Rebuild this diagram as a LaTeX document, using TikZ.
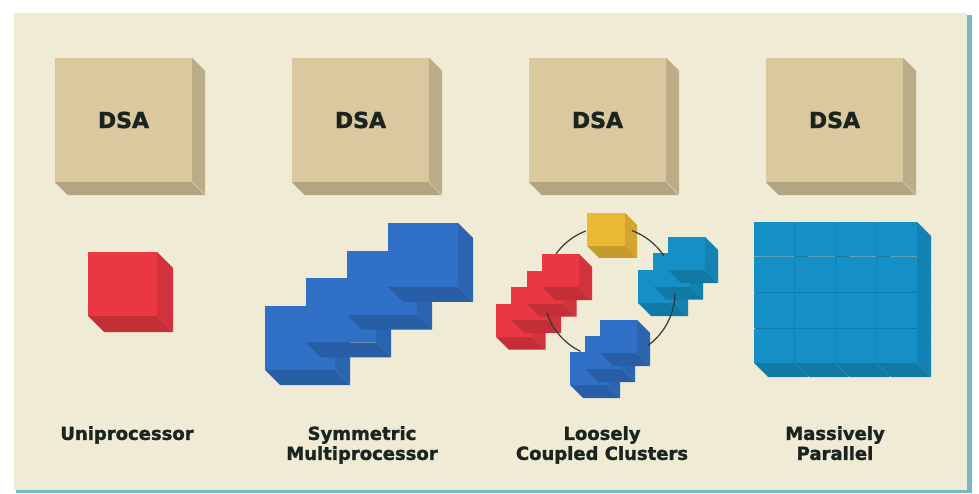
\documentclass[tikz,border=0pt]{standalone}
\usepackage{fontspec}
\usepackage{tikz}
\usetikzlibrary{positioning}
\newfontfamily\heavyfont{DejaVu Sans}[BoldFeatures={FakeBold=1.6}]

\definecolor{paper}{HTML}{EFEBD4}
\definecolor{rim}{HTML}{74B9C2}
\definecolor{ink}{HTML}{1C2420}
\definecolor{dsatan}{HTML}{DAC99E}
\definecolor{cpured}{HTML}{E93842}
\definecolor{cpublue}{HTML}{3070C6}
\definecolor{cpucyan}{HTML}{1490C6}
\definecolor{cpuyellow}{HTML}{EAB834}

% front face at (#1,#2), #3 wide and #4 high, pushed back by #5, colour #6
\newcommand{\cpucube}[6]{%
  \fill[#6!90!black] (#1+#3,#2) -- ++(#5,#5) -- ++(0,#4) -- ++(-#5,-#5) -- cycle;
  \fill[#6!84!black] (#1,#2+#4) -- ++(#3,0) -- ++(#5,#5) -- ++(-#3,0) -- cycle;
  \fill[#6] (#1,#2) rectangle ++(#3,#4);
}

\tikzset{
  dsabox/.style={rectangle, fill=dsatan, minimum width=137pt, minimum height=124pt,
    inner sep=0pt, text=ink, font=\heavyfont\bfseries\fontsize{22}{24}\selectfont},
  caption/.style={anchor=north, align=center, inner sep=0pt, text=ink,
    font=\heavyfont\bfseries\fontsize{18}{20}\selectfont},
  ring/.style={draw=ink!90, line width=1.2pt}
}

\begin{document}
\begin{tikzpicture}[x=1pt,y=-1pt]
  \useasboundingbox (0,0) rectangle (979,494);
  \fill[white] (0,0) rectangle (979,494);
  \fill[rim] (16,15) rectangle (972,493);
  \fill[paper] (14,13) rectangle (967,490);

  % storage blocks along the top
  \foreach \i/\x in {1/123.5,2/360.5,3/597.5,4/834.5} {
    \node[dsabox] (dsa\i) at (\x,120) {DSA};
    \fill[dsatan!86!black] (dsa\i.north east) -- ++(13,13) -- ++(0,124) -- ++(-13,-13) -- cycle;
    \fill[dsatan!82!black] (dsa\i.south west) -- ++(13,13) -- ++(137,0) -- ++(-13,-13) -- cycle;
  }

  % one processor
  \cpucube{88}{252}{69}{64}{16}{cpured}

  % shared memory stack
  \foreach \k in {0,1,2,3} {\cpucube{265+41*\k}{306-27.7*\k}{70}{64}{15}{cpublue}}

  % clusters round the ring
  \foreach \k in {3,2,1,0} {\cpucube{542-15.5*\k}{254+16.5*\k}{37}{33}{13}{cpured}}
  \foreach \k in {2,1,0} {\cpucube{668-15*\k}{237+16.5*\k}{37}{33}{13}{cpucyan}}
  \foreach \k in {2,1,0} {\cpucube{600-15*\k}{320+16*\k}{37}{33}{13}{cpublue}}
  \cpucube{587}{213}{38}{33}{12}{cpuyellow}

  \coordinate (ring) at (609.3,292.3);
  \draw[ring] (ring) ++(144:65.7pt) arc[start angle=144, end angle=111, radius=65.7pt];
  \draw[ring] (ring) ++(70:65.7pt) arc[start angle=70, end angle=34, radius=65.7pt];
  \draw[ring] (ring) ++(-1:65.7pt) arc[start angle=-1, end angle=-54, radius=65.7pt];
  \draw[ring] (ring) ++(244:65.7pt) arc[start angle=244, end angle=198, radius=65.7pt];

  % 4x4 array
  \foreach \r in {0,1,2,3}
    \foreach \c in {0,1,2,3} {\cpucube{754+41*\c}{222+35.5*\r}{40}{34.5}{14}{cpucyan}}

  % captions
  \node[caption] (uni) at (127,426) {Uniprocessor};
  \node[caption] (smp) at (362,426) {Symmetric\\Multiprocessor};
  \node[caption] (lcc) at (602,426) {Loosely\\Coupled Clusters};
  \node[caption] (mpp) at (835,426) {Massively\\Parallel};
\end{tikzpicture}
\end{document}
